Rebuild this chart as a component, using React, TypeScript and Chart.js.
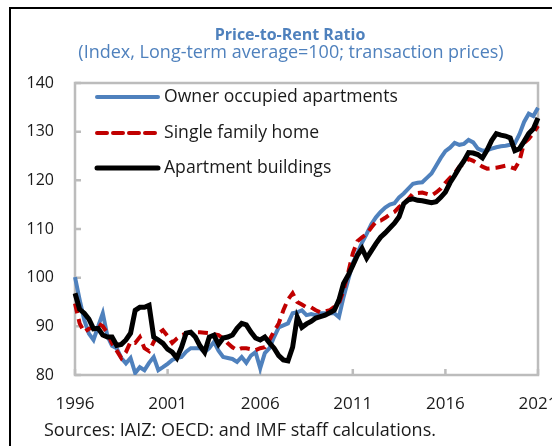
import { useEffect, useRef } from "react";
import { Chart, registerables } from "chart.js";

Chart.register(...registerables);

const START_YEAR = 1996;
const QUARTER_COUNT = 101;
const TICK_YEARS = ["1996", "2001", "2006", "2011", "2016", "2021"];
const Y_MIN = 80;
const Y_MAX = 140;
const Y_STEP = 10;

const TITLE = "Price-to-Rent Ratio";
const SUBTITLE = "(Index, Long-term average=100; transaction prices)";
const SOURCE = "Sources: IAIZ: OECD: and IMF staff calculations.";

const SERIES_NAMES = ["Owner occupied apartments", "Single family home", "Apartment buildings"];

const quarterLabels: string[] = [];
for (let i = 0; i < QUARTER_COUNT; i++) {
  quarterLabels.push(`${START_YEAR + Math.floor(i / 4)}Q${(i % 4) + 1}`);
}

const ownerOccupied = [
  100.1, 95.5, 91.3, 88.5, 87.2, 90, 92.7, 88, 86, 85.5,
  83.5, 82.4, 83.5, 80.4, 81.6, 81, 82.5, 83.7, 81, 81.6,
  82.3, 83.1, 83.5, 83.7, 84.8, 85.5, 85.5, 85.5, 84.7, 85.5,
  86.8, 85, 83.7, 83.5, 83.3, 82.7, 83.7, 82.5, 84, 84.7,
  81.4, 84.5, 85.5, 87.8, 89.8, 90.2, 90.6, 92.7, 92.9, 93.3,
  92.3, 92.5, 92.3, 92.7, 92.7, 92.7, 92.7, 91.9, 96, 99.5,
  103, 105, 107.2, 109, 111, 112.4, 113.5, 114.4, 115, 115.3,
  116.5, 117.3, 118.3, 119.3, 119.5, 119.6, 120.5, 121.4, 123, 124.6,
  126, 126.7, 127.7, 127.3, 127.5, 128.3, 127.8, 126.5, 126.1, 126.2,
  126.5, 126.8, 127, 127.1, 127.3, 127.6, 129.5, 132, 133.7, 133.2,
  134.9,
];

const singleFamily = [
  94.7, 90.6, 88.8, 89.5, 89.8, 90.6, 90, 88.6, 86.5, 85,
  83.5, 84.7, 86.8, 86.6, 87.8, 85.5, 84.9, 86.8, 88.5, 89.2,
  88, 86.6, 87.5, 88.2, 88.5, 88.8, 88.8, 88.8, 88.7, 88.6,
  88.4, 88.2, 87.5, 86.5, 85.7, 85.1, 85.5, 85.5, 85.3, 85.1,
  85.5, 85.7, 87.2, 89, 90.6, 93.3, 95.5, 96.8, 95, 94.5,
  93.9, 93.9, 93.3, 92.9, 93.1, 93.3, 94, 94.7, 97.4, 101,
  105, 107.5, 108.3, 109, 110.3, 111.5, 111.7, 112.3, 113, 113.5,
  114.5, 115.2, 116.2, 117.3, 117.4, 117.5, 117.2, 116.9, 117.5, 118.3,
  119.5, 120.5, 121.5, 122.8, 123.4, 124.4, 124, 123.4, 122.8, 122.4,
  122.5, 122.6, 122.8, 123, 122.7, 122.4, 124, 127.7, 128.5, 129.7,
  131.2,
];

const apartmentBuildings = [
  96.8, 93.5, 92.7, 91.5, 89.5, 89.6, 88.2, 87.8, 87.8, 86.1,
  86.3, 87.2, 88.6, 93.3, 93.9, 93.9, 94.3, 87.8, 87.2, 86.5,
  85.3, 84.7, 83.5, 85.7, 88.6, 88.8, 87.8, 86, 84.7, 87.8,
  88.2, 86.3, 87.6, 87.8, 88.2, 89.6, 90.6, 90.3, 88.8, 87.6,
  87.2, 87.8, 86.6, 85.5, 84, 83.1, 82.9, 85.7, 91.9, 89.8,
  90.5, 91, 91.7, 92, 92.3, 92.8, 93.3, 95.4, 98.8, 100.5,
  102.5, 104.6, 106, 104, 105.5, 107, 108.3, 109.2, 110.2, 111.2,
  112.5, 115.2, 116, 116.2, 115.9, 115.8, 115.6, 115.4, 115.6, 116.5,
  117.6, 119.5, 121, 122.6, 124, 125.7, 125.6, 125.3, 124.6, 126.2,
  128.2, 129.6, 129.3, 129.1, 128.7, 126.1, 126.5, 128, 129.6, 130.6,
  132.8,
];

const BLUE = "#4f81bd";
const RED = "#c00000";
const BLACK = "#000000";
const FONT = "'Open Sans', 'Noto Sans', sans-serif";

const W = 552;
const H = 446;

const decorPlugin = {
  id: "decor",
  beforeDraw(chart: any) {
    const { ctx } = chart;
    ctx.save();
    ctx.fillStyle = "#ffffff";
    ctx.fillRect(0, 0, W, H);
    // outer frame (left and top)
    ctx.fillStyle = "#000000";
    ctx.fillRect(9, 7, 2, H - 7);
    ctx.fillRect(9, 7, W - 9, 2);
    // title
    ctx.textAlign = "center";
    ctx.textBaseline = "alphabetic";
    ctx.fillStyle = BLUE;
    ctx.font = `bold 16px ${FONT}`;
    ctx.fillText(TITLE, 290, 40);
    ctx.font = `18px ${FONT}`;
    ctx.fillText(SUBTITLE, 291, 58);
    // source
    ctx.textAlign = "left";
    ctx.fillStyle = "#1a1a1a";
    ctx.font = `18px ${FONT}`;
    ctx.fillText(SOURCE, 44, 436);
    ctx.restore();
  },
  beforeDatasetsDraw(chart: any) {
    const { ctx, chartArea } = chart;
    const { left, right, top, bottom } = chartArea;
    const xs = chart.scales.x;
    const ys = chart.scales.y;
    ctx.save();
    ctx.strokeStyle = "#bcbcbc";
    ctx.lineWidth = 2.5;
    ctx.strokeRect(left, top, right - left, bottom - top);
    ctx.beginPath();
    ys.ticks.forEach((t: any) => {
      const y = ys.getPixelForValue(t.value);
      ctx.moveTo(left, y);
      ctx.lineTo(left + 6, y);
    });
    xs.ticks.forEach((t: any) => {
      const x = xs.getPixelForValue(t.value);
      ctx.moveTo(x, bottom);
      ctx.lineTo(x, bottom - 6);
    });
    ctx.stroke();
    ctx.restore();
  },
  afterDatasetsDraw(chart: any) {
    const { ctx } = chart;
    const rows = [
      { y: 97, color: BLUE, width: 4, dash: [] as number[] },
      { y: 133, color: RED, width: 4, dash: [10, 6] },
      { y: 168, color: BLACK, width: 5, dash: [] as number[] },
    ];
    ctx.save();
    rows.forEach((r, i) => {
      ctx.beginPath();
      ctx.setLineDash(r.dash);
      ctx.lineCap = "round";
      ctx.strokeStyle = r.color;
      ctx.lineWidth = r.width;
      ctx.moveTo(97, r.y);
      ctx.lineTo(158, r.y);
      ctx.stroke();
      ctx.setLineDash([]);
      ctx.fillStyle = "#1a1a1a";
      ctx.font = `17.6px ${FONT}`;
      ctx.textAlign = "left";
      ctx.textBaseline = "middle";
      ctx.fillText(SERIES_NAMES[i], 164, r.y);
    });
    ctx.restore();
  },
};

export default function App() {
  const canvasRef = useRef<HTMLCanvasElement | null>(null);

  useEffect(() => {
    let chart: Chart | null = null;
    let cancelled = false;
    const make = () => {
      if (cancelled || !canvasRef.current) return;
      chart = new Chart(canvasRef.current, {
        type: "line",
        data: {
          labels: quarterLabels,
          datasets: [
            {
              label: SERIES_NAMES[0],
              data: ownerOccupied,
              borderColor: BLUE,
              backgroundColor: BLUE,
              borderWidth: 4,
              pointRadius: 0,
              tension: 0,
              order: 2,
            },
            {
              label: SERIES_NAMES[1],
              data: singleFamily,
              borderColor: RED,
              backgroundColor: RED,
              borderWidth: 4,
              borderDash: [10, 6],
              pointRadius: 0,
              tension: 0,
              order: 1,
            },
            {
              label: SERIES_NAMES[2],
              data: apartmentBuildings,
              borderColor: BLACK,
              backgroundColor: BLACK,
              borderWidth: 5,
              pointRadius: 0,
              tension: 0,
              order: 0,
            },
          ],
        },
        options: {
          animation: false,
          responsive: false,
          maintainAspectRatio: false,
          devicePixelRatio: 1,
          layout: { padding: { left: 0, right: 14, top: 83, bottom: 31 } },
          plugins: {
            legend: { display: false },
            title: { display: false },
            tooltip: { enabled: false },
          },
          scales: {
            x: {
              type: "category",
              offset: false,
              grid: { display: false, drawTicks: false },
              border: { display: false },
              afterFit: (s: any) => {
                s.height = 40;
                s.paddingLeft = 0;
                s.paddingRight = 0;
              },
              ticks: {
                autoSkip: false,
                maxRotation: 0,
                minRotation: 0,
                padding: 19,
                color: "#1a1a1a",
                font: { family: FONT, size: 17 },
                callback: (_v: any, i: number) => {
                  if (i % 20 !== 0) return null;
                  return TICK_YEARS[i / 20];
                },
              },
            },
            y: {
              min: Y_MIN,
              max: Y_MAX,
              grid: { display: false, drawTicks: false },
              border: { display: false },
              afterFit: (s: any) => {
                s.width = 75;
                s.paddingTop = 0;
                s.paddingBottom = 0;
              },
              ticks: {
                stepSize: Y_STEP,
                padding: 21,
                color: "#1a1a1a",
                font: { family: FONT, size: 16 },
              },
            },
          },
        },
        plugins: [decorPlugin],
      });
    };
    const fontsReady = (document as any).fonts
      ? Promise.all([
          (document as any).fonts.load(`16px 'Open Sans'`),
          (document as any).fonts.load(`bold 16px 'Open Sans'`),
        ]).catch(() => null)
      : Promise.resolve(null);
    fontsReady.then(make);
    return () => {
      cancelled = true;
      if (chart) chart.destroy();
    };
  }, []);

  return (
    <div style={{ position: "fixed", left: 0, top: 0, width: W, height: H, background: "#fff" }}>
      <canvas ref={canvasRef} width={W} height={H} style={{ width: W, height: H, display: "block" }} />
    </div>
  );
}
